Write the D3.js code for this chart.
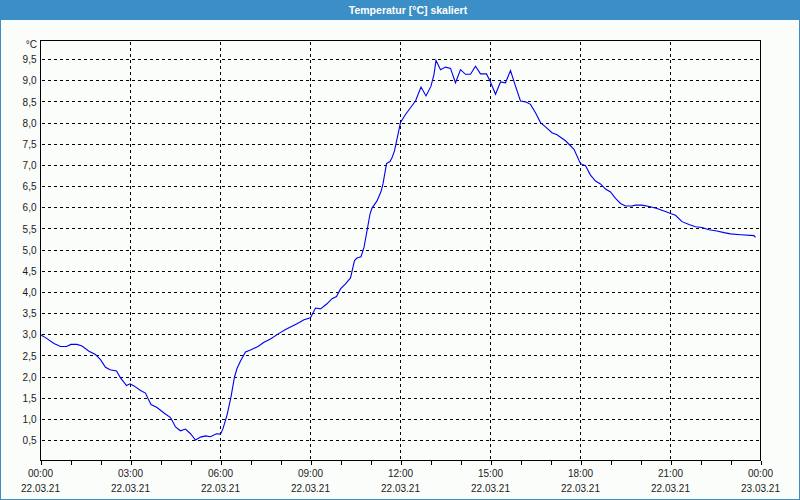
<!DOCTYPE html>
<html>
<head>
<meta charset="utf-8">
<script src="https://cdn.jsdelivr.net/npm/d3@7"></script>
<style>
html,body{margin:0;padding:0;background:#fff;}
svg{display:block;}
text{font-family:"Liberation Sans",Arial,sans-serif;}
</style>
</head>
<body>
<svg id="chart" width="800" height="500"></svg>
<script>
const title = "Temperatur [°C] skaliert";
const unitLabel = "°C";
const times = ["00:00","00:10","00:27","00:40","00:52","01:01","01:13","01:23","01:37","01:50","02:00","02:10","02:19","02:32","02:40","02:52","02:59","03:07","03:20","03:30","03:35","03:41","03:53","04:07","04:20","04:23","04:30","04:40","04:50","05:00","05:10","05:20","05:30","05:40","05:52","06:00","06:05","06:13","06:21","06:28","06:33","06:40","06:50","07:00","07:15","07:27","07:40","07:57","08:10","08:20","08:33","08:47","09:00","09:10","09:20","09:33","09:43","09:52","10:00","10:10","10:20","10:28","10:33","10:41","10:47","10:53","10:59","11:03","11:13","11:21","11:25","11:32","11:39","11:43","11:48","12:00","12:10","12:20","12:30","12:41","12:51","13:01","13:07","13:11","13:20","13:30","13:40","13:50","14:00","14:10","14:20","14:30","14:40","14:52","15:00","15:10","15:20","15:30","15:40","15:50","16:00","16:10","16:20","16:30","16:40","16:50","17:03","17:13","17:30","17:47","18:00","18:10","18:20","18:30","18:40","18:50","19:00","19:10","19:20","19:30","19:43","19:50","20:03","20:20","20:33","20:50","21:00","21:10","21:23","21:37","21:50","22:03","22:17","22:33","22:47","23:00","23:20","23:47","23:50"];
const temps = [3.00,2.93,2.79,2.72,2.72,2.77,2.77,2.73,2.61,2.53,2.41,2.23,2.17,2.14,1.98,1.80,1.84,1.79,1.68,1.62,1.49,1.35,1.28,1.15,1.04,0.98,0.82,0.73,0.77,0.66,0.51,0.58,0.61,0.59,0.66,0.65,0.78,1.10,1.53,2.00,2.20,2.38,2.59,2.64,2.72,2.82,2.90,3.03,3.12,3.18,3.26,3.35,3.40,3.63,3.61,3.73,3.85,3.90,4.08,4.20,4.34,4.75,4.81,4.84,5.06,5.45,5.85,5.99,6.16,6.38,6.56,7.04,7.09,7.18,7.34,8.01,8.20,8.36,8.52,8.85,8.64,8.87,9.15,9.48,9.26,9.32,9.29,8.95,9.26,9.15,9.15,9.34,9.16,9.16,8.97,8.68,8.97,8.95,9.24,8.87,8.52,8.50,8.44,8.24,8.01,7.91,7.77,7.72,7.58,7.38,7.04,6.99,6.77,6.63,6.56,6.44,6.37,6.22,6.10,6.04,6.04,6.06,6.06,6.02,5.98,5.91,5.86,5.82,5.67,5.60,5.55,5.53,5.48,5.45,5.41,5.38,5.36,5.34,5.30];
const yTicks = [0.5,1.0,1.5,2.0,2.5,3.0,3.5,4.0,4.5,5.0,5.5,6.0,6.5,7.0,7.5,8.0,8.5,9.0,9.5];
const xTickHours = [0,3,6,9,12,15,18,21,24];
const startDate = "2021-03-22";

const svg = d3.select("#chart");
const W = 800, H = 500;
const L = 40.5, R = 760.5, T = 40.5, B = 460.5;

const parse = d3.timeParse("%Y-%m-%d %H:%M");
const t0 = parse(startDate + " 00:00");
const t1 = d3.timeDay.offset(t0, 1);
const data = times.map((t, i) => ({ d: parse(startDate + " " + t), v: temps[i] }));

const x = d3.scaleTime().domain([t0, t1]).range([L, R]);
const y = d3.scaleLinear().domain([0.5, 9.5]).range([440.5, 59.5]);

svg.append("rect").attr("x", 0).attr("y", 0).attr("width", W).attr("height", H).attr("fill", "#3b8fc6");
svg.append("rect").attr("x", 1).attr("y", 20).attr("width", W - 2).attr("height", H - 21).attr("fill", "#fbfdfb");
svg.append("text").attr("x", 408).attr("y", 13.5).attr("text-anchor", "middle")
  .attr("fill", "#fff").attr("font-weight", "bold").attr("font-size", "10.5px").text(title);

const crisp = v => Math.floor(v) + 0.5;
const grid = svg.append("g").attr("stroke", "#000").attr("stroke-dasharray", "3,3").attr("shape-rendering", "crispEdges");
yTicks.forEach(v => {
  grid.append("line").attr("x1", L + 1).attr("x2", R).attr("y1", crisp(y(v))).attr("y2", crisp(y(v)));
});
xTickHours.slice(1, -1).forEach(h => {
  const xx = crisp(x(d3.timeHour.offset(t0, h)));
  grid.append("line").attr("x1", xx).attr("x2", xx).attr("y1", T + 1).attr("y2", B);
});

svg.append("rect").attr("x", L).attr("y", T).attr("width", R - L).attr("height", B - T)
  .attr("fill", "none").attr("stroke", "#000").attr("shape-rendering", "crispEdges");

const yAxis = d3.axisLeft(y).tickValues(yTicks).tickSize(0).tickPadding(4)
  .tickFormat(v => d3.format(".1f")(v).replace(".", ","));
const gy = svg.append("g").attr("transform", `translate(${L},0)`).call(yAxis);
gy.select(".domain").remove();
gy.selectAll("text").attr("font-family", "Liberation Sans, Arial, sans-serif").attr("font-size", "10px").attr("fill", "#1a1a1a");
svg.append("text").attr("x", 37).attr("y", 48).attr("text-anchor", "end")
  .attr("font-size", "10px").attr("fill", "#1a1a1a").text(unitLabel);

const xAxis = d3.axisBottom(x).ticks(d3.timeHour.every(1)).tickSize(4).tickFormat("");
const gx = svg.append("g").attr("transform", `translate(0,${B})`).call(xAxis);
gx.select(".domain").remove();
gx.selectAll("line").attr("stroke", "#000").attr("shape-rendering", "crispEdges");

const fmtT = d3.timeFormat("%H:%M"), fmtD = d3.timeFormat("%d.%m.%y");
const lab = svg.append("g").attr("font-size", "10px").attr("fill", "#1a1a1a").attr("text-anchor", "middle");
xTickHours.forEach(h => {
  const d = d3.timeHour.offset(t0, h);
  lab.append("text").attr("x", x(d)).attr("y", 477).text(fmtT(d));
  lab.append("text").attr("x", x(d)).attr("y", 492).text(fmtD(d));
});

const line = d3.line().x(d => x(d.d)).y(d => y(d.v));
svg.append("path").datum(data).attr("d", line).attr("fill", "none")
  .attr("stroke", "#0000ee").attr("stroke-width", 1.1);
</script>
</body>
</html>
